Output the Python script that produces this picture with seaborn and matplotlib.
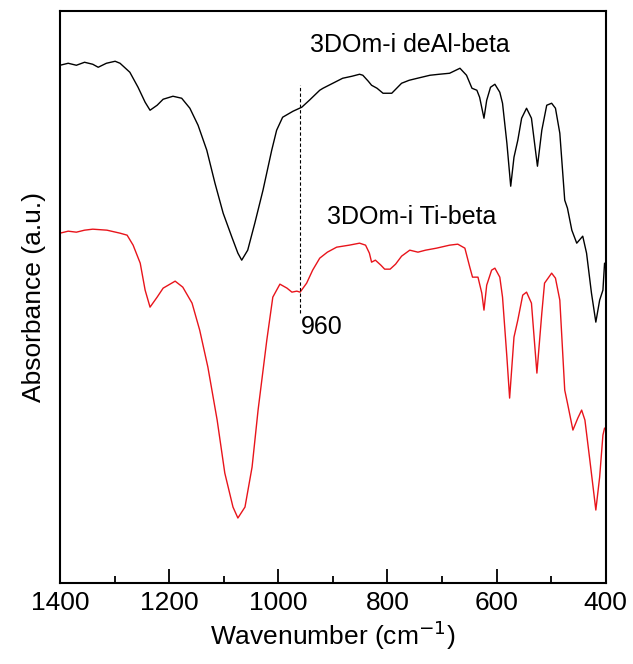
import numpy as np
import pandas as pd
import matplotlib
matplotlib.use("Agg")
import matplotlib.pyplot as plt
import seaborn as sns
from matplotlib.ticker import MultipleLocator

# Wavenumbers (cm^-1) and absorbance (a.u., offset)
deal_wn = [1400, 1385, 1370, 1355, 1340, 1330, 1315, 1299, 1290, 1272, 1257, 1244, 1235,
           1222, 1211, 1193, 1177, 1162, 1147, 1131, 1116, 1101, 1085, 1074, 1067, 1056,
           1043, 1028, 1012, 1003, 992, 973, 957, 943, 924, 918, 900, 882, 865, 851,
           845, 835, 829, 819, 808, 800, 792, 783, 774, 760, 745, 722, 705, 686, 667,
           655, 645, 636, 631, 623, 618, 611, 603, 594, 589, 581, 574, 568, 561, 554,
           545, 536, 525, 517, 508, 499, 492, 484, 475, 470, 462, 453, 442, 435, 426,
           418, 411, 405, 402]
deal_abs = [5.18, 5.20, 5.18, 5.21, 5.19, 5.16, 5.20, 5.22, 5.20, 5.11, 4.96, 4.81, 4.73,
            4.78, 4.84, 4.87, 4.85, 4.75, 4.58, 4.33, 4.00, 3.70, 3.46, 3.30, 3.23, 3.33,
            3.60, 3.93, 4.33, 4.53, 4.66, 4.72, 4.76, 4.83, 4.93, 4.95, 5.00, 5.05, 5.07,
            5.09, 5.08, 5.02, 4.98, 4.95, 4.90, 4.90, 4.90, 4.95, 5.00, 5.03, 5.05, 5.08,
            5.09, 5.10, 5.15, 5.08, 4.95, 4.93, 4.86, 4.65, 4.83, 4.96, 4.99, 4.91, 4.80,
            4.40, 3.97, 4.26, 4.43, 4.65, 4.75, 4.65, 4.17, 4.53, 4.78, 4.80, 4.75, 4.50,
            3.83, 3.75, 3.53, 3.40, 3.47, 3.30, 2.90, 2.61, 2.83, 2.93, 3.20]

ti_wn = [1400, 1385, 1370, 1355, 1340, 1314, 1290, 1277, 1266, 1253, 1244, 1235, 1222,
         1211, 1189, 1175, 1158, 1144, 1129, 1112, 1098, 1083, 1074, 1061, 1048, 1037,
         1021, 1010, 997, 984, 975, 966, 960, 948, 937, 924, 910, 893, 870, 851, 840,
         833, 829, 822, 812, 805, 795, 785, 774, 759, 744, 730, 710, 686, 671, 658,
         649, 644, 634, 627, 623, 618, 609, 603, 594, 589, 581, 576, 568, 561, 552,
         545, 536, 526, 517, 512, 499, 492, 484, 475, 470, 460, 451, 444, 438, 429,
         418, 411, 405, 402]
ti_abs = [3.50, 3.52, 3.51, 3.53, 3.54, 3.53, 3.50, 3.48, 3.38, 3.20, 2.93, 2.76, 2.86,
          2.95, 3.02, 2.96, 2.80, 2.53, 2.16, 1.63, 1.10, 0.76, 0.65, 0.76, 1.16, 1.73,
          2.43, 2.86, 2.99, 2.95, 2.91, 2.92, 2.91, 3.00, 3.13, 3.25, 3.31, 3.36, 3.38,
          3.40, 3.38, 3.30, 3.21, 3.23, 3.18, 3.14, 3.14, 3.19, 3.27, 3.33, 3.31, 3.33,
          3.35, 3.38, 3.39, 3.35, 3.16, 3.06, 3.06, 2.90, 2.73, 2.98, 3.13, 3.15, 3.06,
          2.86, 2.26, 1.85, 2.46, 2.63, 2.88, 2.91, 2.80, 2.10, 2.70, 3.00, 3.10, 3.05,
          2.83, 1.93, 1.80, 1.53, 1.65, 1.73, 1.63, 1.23, 0.73, 1.06, 1.48, 1.55]

labels = ["3DOm-i deAl-beta", "3DOm-i Ti-beta"]
marker_wn = 960
marker_range = [2.70, 4.98]
xticks = [1400, 1200, 1000, 800, 600, 400]

sns.set_theme(style="ticks")
plt.rcParams['font.family'] = ['Liberation Sans', 'DejaVu Sans']
plt.rcParams['text.color'] = 'black'
plt.rcParams['axes.labelcolor'] = 'black'
plt.rcParams['xtick.color'] = 'black'
plt.rcParams['ytick.color'] = 'black'

df = pd.concat([
    pd.DataFrame({"wn": deal_wn, "A": deal_abs, "sample": labels[0]}),
    pd.DataFrame({"wn": ti_wn, "A": ti_abs, "sample": labels[1]}),
])

fig = plt.figure(figsize=(6.33, 6.64), dpi=100)
ax = fig.add_axes([0.0948, 0.122, 0.862, 0.861])
sns.lineplot(data=df, x="wn", y="A", hue="sample",
             palette={labels[0]: "black", labels[1]: "#e8141b"},
             linewidth=1.0, legend=False, ax=ax, estimator=None, sort=False)
for ln in ax.lines:
    ln.set_solid_joinstyle("round")

ax.vlines(marker_wn, marker_range[0], marker_range[1], colors="black",
          linestyles=(0, (3, 2)), linewidth=0.8)

ax.set_xlim(1400, 400)
ax.set_ylim(0, 5.72)
ax.set_xticks(xticks)
ax.xaxis.set_minor_locator(MultipleLocator(100))
ax.set_yticks([])
ax.tick_params(axis="x", which="major", direction="in", length=10, width=1.3,
               labelsize=19, pad=6, top=False)
ax.tick_params(axis="x", which="minor", direction="in", length=5, width=1.3, top=False)
for s in ax.spines.values():
    s.set_linewidth(1.5)
    s.set_visible(True)
    s.set_color("black")

ax.set_xlabel("Wavenumber (cm$^{-1}$)", fontsize=19, labelpad=2)
ax.set_ylabel("Absorbance (a.u.)", fontsize=19, labelpad=10)

ax.text(942, 5.38, labels[0], fontsize=18, ha="left", va="center")
ax.text(911, 3.66, labels[1], fontsize=18, ha="left", va="center")
ax.text(959, 2.56, "960", fontsize=18, ha="left", va="center")

fig.savefig("out.png", dpi=100)
